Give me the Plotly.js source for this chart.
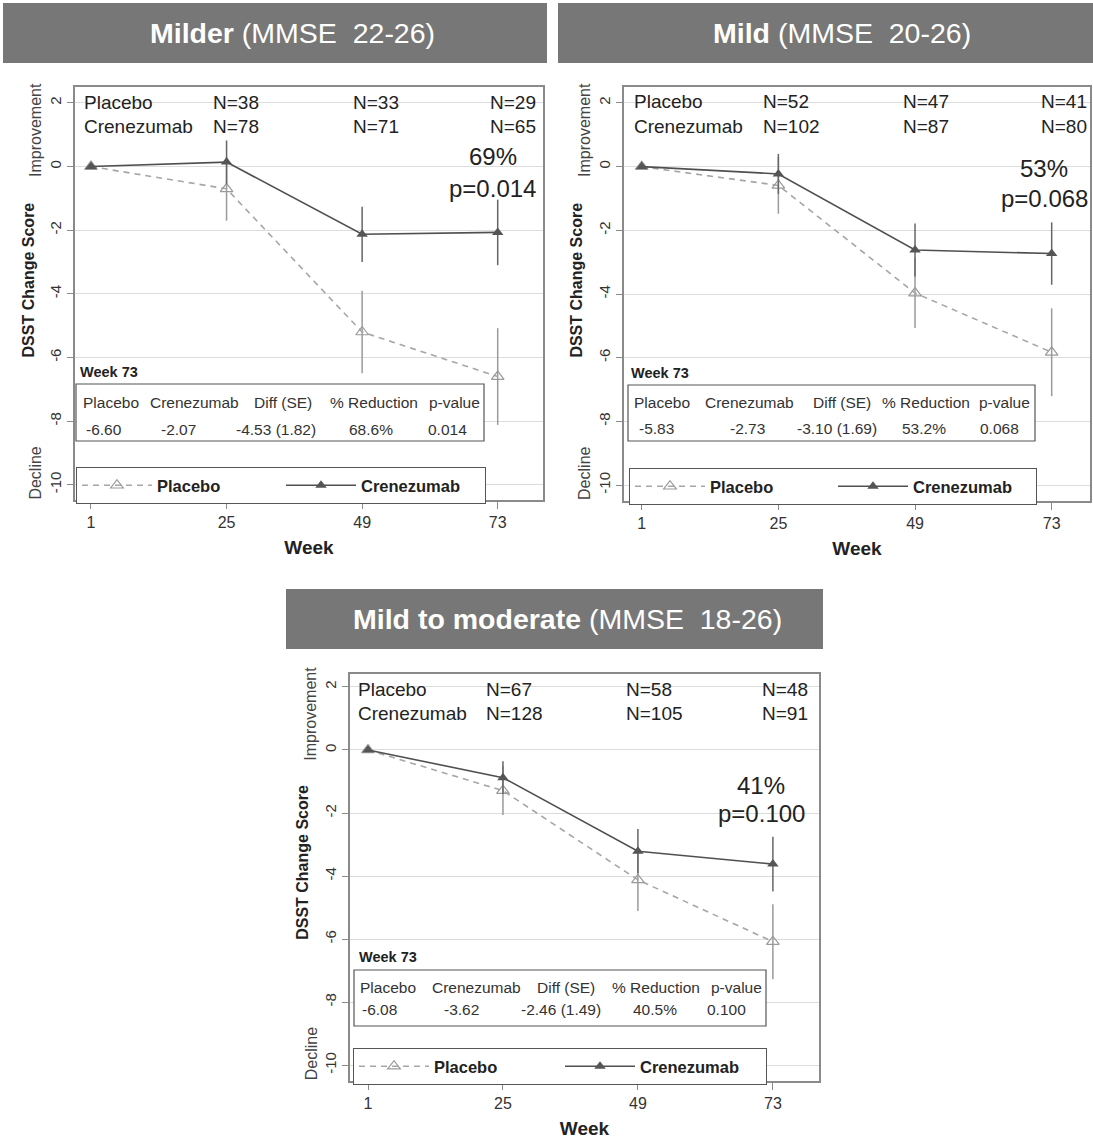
<!DOCTYPE html>
<html>
<head>
<meta charset="utf-8">
<script src="https://cdn.plot.ly/plotly-3.0.1.min.js"></script>
<style>html,body{margin:0;padding:0;background:#fff}</style>
</head>
<body>
<div id="chart" style="width:1093px;height:1142px"></div>
<script>
// ---------------- DATA ----------------
const weeks = [1, 25, 49, 73];
const weekLabels = ['1', '25', '49', '73'];
const yTicks = [-10, -8, -6, -4, -2, 0, 2];
const yTickLabels = ['-10', '-8', '-6', '-4', '-2', '0', '2'];

const panelBold = ['Milder', 'Mild', 'Mild to moderate'];
const panelRange = ['(MMSE\u00a0 22-26)', '(MMSE\u00a0 20-26)', '(MMSE\u00a0 18-26)'];

// Mean DSST change from baseline
const placeboMilder = [0, -0.70, -5.20, -6.60];
const crenezMilder  = [0, 0.14, -2.13, -2.07];
const placeboMild   = [0, -0.59, -3.97, -5.83];
const crenezMild    = [0, -0.23, -2.62, -2.73];
const placeboModerate = [0, -1.29, -4.12, -6.08];
const crenezModerate  = [0, -0.88, -3.21, -3.62];

// Error bar half-widths
const placeboErrMilder = [0, 1.00, 1.30, 1.52];
const crenezErrMilder  = [0, 0.68, 0.87, 1.03];
const placeboErrMild   = [0, 0.89, 1.10, 1.38];
const crenezErrMild    = [0, 0.63, 0.83, 0.98];
const placeboErrModerate = [0, 0.77, 0.99, 1.19];
const crenezErrModerate  = [0, 0.52, 0.70, 0.87];

// Numbers of patients (weeks 25, 49, 73)
const nPlaceboMilder = ['N=38', 'N=33', 'N=29'];
const nCrenezMilder  = ['N=78', 'N=71', 'N=65'];
const nPlaceboMild   = ['N=52', 'N=47', 'N=41'];
const nCrenezMild    = ['N=102', 'N=87', 'N=80'];
const nPlaceboModerate = ['N=67', 'N=58', 'N=48'];
const nCrenezModerate  = ['N=128', 'N=105', 'N=91'];

const reductionLabels = ['69%', '53%', '41%'];
const pLabels = ['p=0.014', 'p=0.068', 'p=0.100'];

const tableHeaders = ['Placebo', 'Crenezumab', 'Diff (SE)', '% Reduction', 'p-value'];
const tableMilder   = ['-6.60', '-2.07', '-4.53 (1.82)', '68.6%', '0.014'];
const tableMild     = ['-5.83', '-2.73', '-3.10 (1.69)', '53.2%', '0.068'];
const tableModerate = ['-6.08', '-3.62', '-2.46 (1.49)', '40.5%', '0.100'];

const seriesNames = ['Placebo', 'Crenezumab'];

// ---------------- LAYOUT GEOMETRY (pixels) ----------------
const W = 1093, H = 1142;
const FONT = '"Liberation Sans", Arial, Helvetica, sans-serif';
const px = v => v / W;
const py = v => 1 - v / H;

const panels = [
  {L: 75, R: 543, T: 87, B: 500, xr: [-1.83, 81.02], yr: [-10.48, 2.5],
   bar: [3, 547, 3, 63], tx: 292, ty: 33,
   pla: placeboMilder, cre: crenezMilder, plaE: placeboErrMilder, creE: crenezErrMilder,
   nP: nPlaceboMilder, nC: nCrenezMilder, tab: tableMilder,
   nX: [211, 350.5, 488], lblX: 82, rowY: [103, 127],
   pct: [492.5, 157, 188],
   tabBox: [76, 484, 384, 441], hdrY: 403, valY: 429,
   hdrX: [111, 194, 283, 374, 454], valX: [104, 178, 276, 371, 447.5],
   wk: [78, 372], leg: [76, 467]},
  {L: 624, R: 1090, T: 87, B: 501, xr: [-2.11, 79.73], yr: [-10.5, 2.5],
   bar: [558, 1093, 3, 63], tx: 842, ty: 33,
   pla: placeboMild, cre: crenezMild, plaE: placeboErrMild, creE: crenezErrMild,
   nP: nPlaceboMild, nC: nCrenezMild, tab: tableMild,
   nX: [761, 901, 1038.5], lblX: 632, rowY: [102, 127],
   pct: [1044, 168, 199],
   tabBox: [628, 1035, 385, 441], hdrY: 403, valY: 428,
   hdrX: [662, 749, 842, 925.5, 1004.7], valX: [656, 747, 837, 923.6, 999],
   wk: [629, 373], leg: [629, 468]},
  {L: 350, R: 819, T: 674, B: 1081, xr: [-2.2, 81.2], yr: [-10.5, 2.41],
   bar: [286, 823, 589, 649], tx: 567, ty: 619,
   pla: placeboModerate, cre: crenezModerate, plaE: placeboErrModerate, creE: crenezErrModerate,
   nP: nPlaceboModerate, nC: nCrenezModerate, tab: tableModerate,
   nX: [484, 623.6, 760], lblX: 356, rowY: [689, 713],
   pct: [761, 785, 813],
   tabBox: [354, 766, 970, 1026], hdrY: 987, valY: 1009,
   hdrX: [388, 476, 566, 656, 736], valX: [379.6, 461, 561, 655, 726],
   wk: [357, 957], leg: [353, 1048]}
];

const ITEMW = 70;
const traces = [];
const layout = {
  width: W, height: H,
  margin: {l: 0, r: 0, t: 0, b: 0},
  paper_bgcolor: '#fff', plot_bgcolor: '#fff',
  font: {family: FONT, color: '#222'},
  showlegend: true,
  annotations: [], shapes: []
};

panels.forEach((p, i) => {
  const sfx = i === 0 ? '' : String(i + 1);
  const xa = 'x' + sfx, ya = 'y' + sfx;
  const legName = 'legend' + sfx;

  layout['xaxis' + sfx] = {
    domain: [px(p.L), px(p.R)], range: p.xr, anchor: ya,
    tickmode: 'array', tickvals: weeks, ticktext: weekLabels,
    showgrid: false, zeroline: false,
    showline: true, mirror: true, linecolor: '#8a8a8a', linewidth: 1.5,
    ticks: 'outside', ticklen: 7, tickwidth: 1.2, tickcolor: '#8a8a8a',
    tickfont: {family: FONT, size: 16, color: '#333'},
    title: {text: '<b>Week</b>', font: {family: FONT, size: 19, color: '#222'}, standoff: 11},
    automargin: false, fixedrange: true
  };
  layout['yaxis' + sfx] = {
    domain: [py(p.B), py(p.T)], range: p.yr, anchor: xa,
    tickmode: 'array', tickvals: yTicks, ticktext: yTickLabels, tickangle: -90,
    showgrid: true, gridcolor: '#dcdcdc', gridwidth: 1, zeroline: false,
    showline: true, mirror: true, linecolor: '#8a8a8a', linewidth: 1.5,
    ticks: 'outside', ticklen: 6, tickwidth: 1.2, tickcolor: '#8a8a8a',
    tickfont: {family: FONT, size: 15, color: '#333'},
    automargin: false, fixedrange: true
  };

  traces.push({
    x: weeks, y: p.pla, xaxis: xa, yaxis: ya, legend: legName,
    name: seriesNames[0], mode: 'lines+markers', hoverinfo: 'skip',
    line: {color: '#a6a6a6', width: 1.6, dash: '6px,5px'},
    marker: {symbol: 'triangle-up-open', size: 11, color: '#9a9a9a', line: {width: 1.2}},
    error_y: {type: 'data', array: p.plaE, visible: true, color: '#9a9a9a', thickness: 1.5, width: 0}
  });
  traces.push({
    x: weeks, y: p.cre, xaxis: xa, yaxis: ya, legend: legName,
    name: seriesNames[1], mode: 'lines+markers', hoverinfo: 'skip',
    line: {color: '#505050', width: 1.6},
    marker: {symbol: 'triangle-up', size: 10, color: '#555'},
    error_y: {type: 'data', array: p.creE, visible: true, color: '#666', thickness: 1.5, width: 0}
  });

  const legW = p.tabBox[1] - p.tabBox[0];
  layout[legName] = {
    x: px(p.leg[0]), y: py(p.leg[1]), xanchor: 'left', yanchor: 'top',
    orientation: 'h', bgcolor: '#fff', bordercolor: '#555', borderwidth: 1,
    font: {family: FONT, size: 16.5, color: '#222', weight: 700},
    itemwidth: ITEMW,
    entrywidth: Math.round((legW - 11) / 2 - (ITEMW + 10)), entrywidthmode: 'pixels',
    traceorder: 'normal'
  };

  // Title bar
  layout.shapes.push({
    type: 'rect', xref: 'paper', yref: 'paper',
    x0: px(p.bar[0]), x1: px(p.bar[1]), y0: py(p.bar[3]), y1: py(p.bar[2]),
    fillcolor: '#777777', line: {width: 0}, layer: 'above'
  });
  layout.annotations.push({
    xref: 'paper', yref: 'paper', x: px(p.tx), y: py(p.ty),
    xanchor: 'center', yanchor: 'middle', showarrow: false,
    text: '<b>' + panelBold[i] + '</b> ' + panelRange[i],
    font: {family: FONT, size: 28.5, color: '#fff'}
  });

  // Y-side texts
  const sideTxt = (txt, dx, yv, bold, col) => layout.annotations.push({
    xref: 'paper', yref: ya, x: px(p.L - dx), y: yv, textangle: -90,
    xanchor: 'center', yanchor: 'middle', showarrow: false,
    text: bold ? '<b>' + txt + '</b>' : txt,
    font: {family: FONT, size: 16, color: col}
  });
  sideTxt('Improvement', 39, 1.15, false, '#444');
  sideTxt('DSST Change Score', 47, -3.58, true, '#222');
  sideTxt('Decline', 39, -9.65, false, '#444');

  const txt = (x, y, t, size, anchor, color) => layout.annotations.push({
    xref: 'paper', yref: 'paper', x: px(x), y: py(y), text: t,
    xanchor: anchor, yanchor: 'middle', showarrow: false,
    font: {family: FONT, size: size, color: color || '#222'}
  });
  // N rows
  txt(p.lblX, p.rowY[0], seriesNames[0], 19, 'left');
  txt(p.lblX, p.rowY[1], seriesNames[1], 19, 'left');
  for (let k = 0; k < 3; k++) {
    txt(p.nX[k], p.rowY[0], p.nP[k], 19, 'left');
    txt(p.nX[k], p.rowY[1], p.nC[k], 19, 'left');
  }
  // % reduction and p
  txt(p.pct[0], p.pct[1], reductionLabels[i], 24, 'center');
  txt(p.pct[0], p.pct[2], pLabels[i], 24, 'center');

  // Week 73 table
  txt(p.wk[0], p.wk[1], '<b>Week 73</b>', 14.5, 'left');
  layout.shapes.push({
    type: 'rect', xref: 'paper', yref: 'paper',
    x0: px(p.tabBox[0]), x1: px(p.tabBox[1]), y0: py(p.tabBox[3]), y1: py(p.tabBox[2]),
    fillcolor: '#fff', line: {color: '#555', width: 1.2}, layer: 'above'
  });
  for (let k = 0; k < 5; k++) {
    txt(p.hdrX[k], p.hdrY, tableHeaders[k], 15.5, 'center', '#333');
    txt(p.valX[k], p.valY, p.tab[k], 15.5, 'center', '#333');
  }
});

Plotly.newPlot('chart', traces, layout, {displayModeBar: false, responsive: false});
</script>
</body>
</html>
